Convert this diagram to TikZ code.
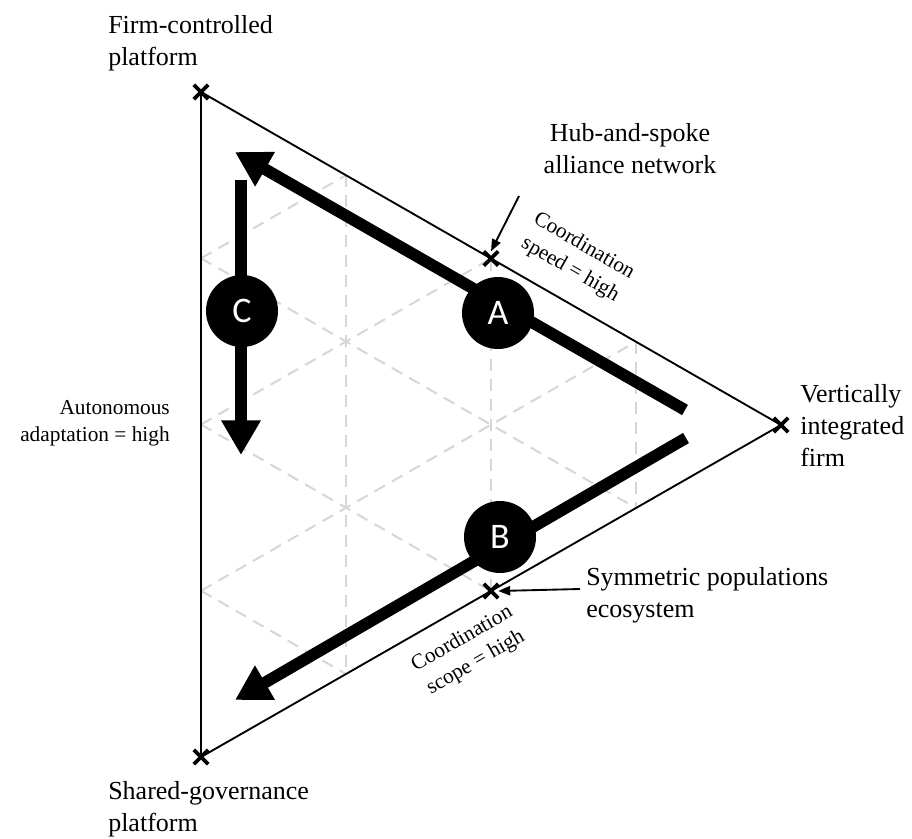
\documentclass[tikz,border=0pt]{standalone}
\usepackage{fontspec}
\setmainfont{Liberation Serif}
\newfontfamily\ballfont{Carlito}
\usetikzlibrary{arrows.meta,shapes.misc,calc}

\tikzset{
    side/.style={line width=1.4pt},
    gridline/.style={black!16, line width=1.5pt, dash pattern=on 9pt off 6pt},
    xmark/.style={cross out, draw, line width=2.8pt, minimum size=8pt, inner sep=0pt},
    flow/.style={line width=8.8pt, -{Triangle[length=26pt,width=28pt]}},
    ball/.style={circle, fill=black, text=white, minimum size=54pt, inner sep=0pt,
        font=\ballfont\fontsize{27}{27}\selectfont},
    lab/.style={inner sep=0pt, font=\fontsize{19.5}{24}\selectfont, align=left},
    note/.style={inner sep=0pt, font=\fontsize{16}{20.5}\selectfont, align=center},
    pointer/.style={line width=1.4pt, -{Triangle[length=9pt,width=7pt]}}
}

\begin{document}
\begin{tikzpicture}[x=0.75pt, y=-0.75pt]
    \useasboundingbox (0,0) rectangle (912,838);

    % corners of the triangle
    \coordinate (T) at (201,92);
    \coordinate (R) at (781,425);
    \coordinate (S) at (201,757);

    % dashed grid
    \foreach \k in {1,2,3} {
        \draw[gridline] ($(T)!\k/4!(R)$) -- ($(S)!\k/4!(R)$);
        \draw[gridline] ($(T)!\k/4!(S)$) -- ($(R)!\k/4!(S)$);
        \draw[gridline] ($(S)!\k/4!(T)$) -- ($(R)!\k/4!(T)$);
    }

    \draw[side] (T) -- (R) -- (S) -- cycle;

    % markers
    \node[xmark] (mT) at (T) {};
    \node[xmark] (mR) at (R) {};
    \node[xmark] (mS) at (S) {};
    \node[xmark] (hub) at ($(T)!0.5!(R)$) {};
    \node[xmark] (sym) at ($(S)!0.5!(R)$) {};

    % thick arrows
    \coordinate (atail) at (685,410);
    \coordinate (atip) at (235,152);
    \coordinate (btail) at (686,438);
    \coordinate (btip) at (235,700);
    \coordinate (ctail) at (241,180);
    \coordinate (ctip) at (241,455);
    \draw[flow] (atail) -- (atip);
    \draw[flow] (btail) -- (btip);
    \draw[flow] (ctail) -- (ctip);

    \node[ball] (A) at (498,313) {A};
    \node[ball] (B) at (500,537) {B};
    \node[ball] (C) at (242,311) {C};

    % labels
    \node[lab, anchor=north west] (firm) at (108,15) {Firm-controlled\\platform};
    \node[lab, anchor=north west] (shared) at (108,781) {Shared-governance\\platform};
    \node[lab, anchor=north west] (vert) at (800,384) {Vertically\\integrated\\firm};
    \node[lab, anchor=north, align=center] (hublab) at (630,123) {Hub-and-spoke\\alliance network};
    \node[lab, anchor=north west] (symlab) at (586,567) {Symmetric populations\\ecosystem};
    \node[note, anchor=north east, align=right] (auto) at (170,400) {Autonomous\\adaptation = high};
    \node[note, rotate=-30] (speed) at (577,258) {Coordination\\speed = high};
    \node[note, rotate=30] (scope) at (469,651) {Coordination\\scope = high};

    \coordinate (hubfrom) at (519,196);
    \coordinate (symfrom) at (580,589);
    \draw[pointer] (hubfrom) -- (hub.north);
    \draw[pointer] (symfrom) -- (sym.east);
\end{tikzpicture}
\end{document}
